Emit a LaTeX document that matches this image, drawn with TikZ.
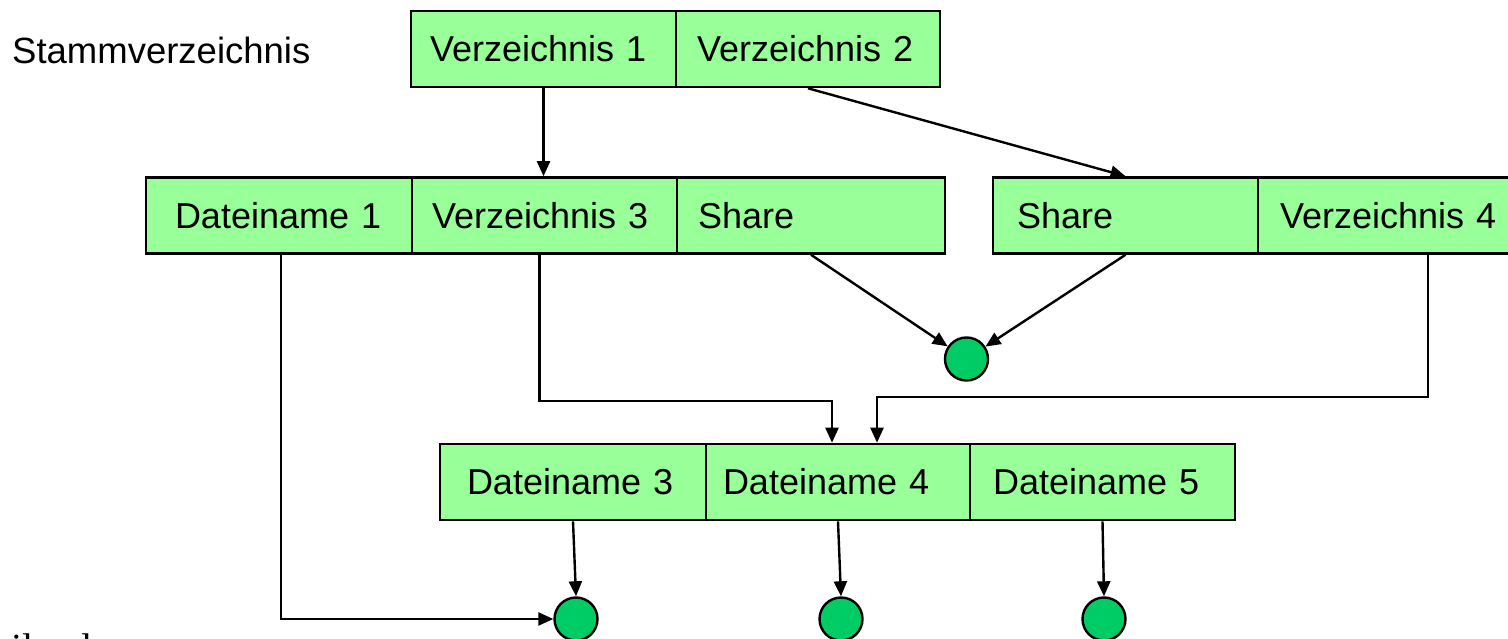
\documentclass[tikz,border=0pt]{standalone}
\usepackage{fontspec}
\setmainfont{Liberation Sans}
\newfontfamily\serifpart{Liberation Serif}
\usetikzlibrary{arrows.meta}
\definecolor{cellgreen}{RGB}{153,255,153}
\definecolor{nodegreen}{RGB}{0,204,102}
\tikzset{
  % a table cell: #1 = width, #2 = left indent of the text
  cell/.style 2 args={draw=black, line width=2.6pt, fill=cellgreen,
    minimum height=76pt, inner sep=0pt, text width=#1pt, align=left,
    execute at begin node={\hspace*{#2pt}},
    font=\fontsize{36}{42}\selectfont},
  endpoint/.style={circle, draw=black, line width=2.4pt, fill=nodegreen,
    minimum size=43pt, inner sep=0pt},
  arr/.style={line width=2.4pt, -{Triangle[length=15pt, width=13pt]}}
}
\begin{document}
\begin{tikzpicture}[x=1pt, y=-1pt]
\useasboundingbox (0,0) rectangle (1508,639);

% root directory label
\node[anchor=west, inner sep=0pt, font=\fontsize{36.5}{42}\selectfont] (root) at (12,50) {Stammverzeichnis};

% first level
\node[cell={265}{19}] (v1) at (543.5,49) {Verzeichnis 1};
\node[cell={264}{21}] (v2) at (808,49) {Verzeichnis 2};

% second level, left block
\node[cell={266}{29}] (d1) at (279,215.5) {Dateiname 1};
\node[cell={265}{20}] (v3) at (544.5,215.5) {Verzeichnis 3};
\node[cell={268}{21}] (s1) at (811,215.5) {Share};

% second level, right block
\node[cell={265}{24}] (s2) at (1125.5,215.5) {Share};
\node[cell={266}{22}] (v4) at (1391,215.5) {Verzeichnis 4};

% third level
\node[cell={266}{27}] (d3) at (573,482) {Dateiname 3};
\node[cell={264}{17}] (d4) at (838,482) {Dateiname 4};
\node[cell={265}{23}] (d5) at (1102.5,482) {Dateiname 5};

% data blocks
\node[endpoint] (c0) at (966.5,359) {};
\node[endpoint] (c1) at (576,619) {};
\node[endpoint] (c2) at (841,619) {};
\node[endpoint] (c3) at (1104,619) {};

% connectors
\draw[arr] (v1.south) -- (v1.south |- v3.north);
\draw[arr] (v2.south) -- (s2.north);
\draw[arr] (s1.south) -- (c0);
\draw[arr] (s2.south) -- (c0);
\draw[arr] ([xshift=2pt]d1.south) |- (c1);
\draw[arr] ([xshift=-5pt]v3.south) -- ++(0,146) -| ([xshift=-6pt]d4.north);
\draw[arr] ([xshift=37pt]v4.south) -- ++(0,142) -| ([xshift=39pt]d4.north);
\draw[arr] (d3.south) -- (c1.north);
\draw[arr] (d4.south) -- (c2.north);
\draw[arr] (d5.south) -- (c3.north);

% caption line running off the lower edge
\node[anchor=base west, inner sep=0pt, font=\serifpart\fontsize{40}{44}\selectfont] (caption) at (11,661) {ilend};
\end{tikzpicture}
\end{document}
